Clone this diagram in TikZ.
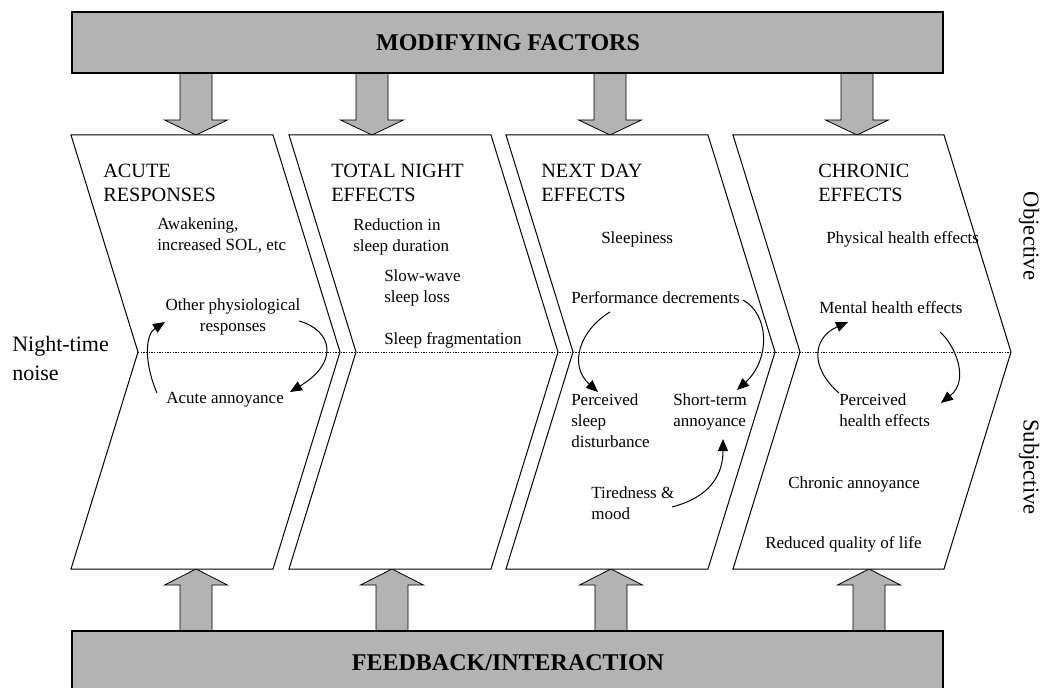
\documentclass[tikz,border=0pt]{standalone}
\usepackage{fontspec}
\setmainfont{Liberation Serif}
\usetikzlibrary{arrows.meta}
\definecolor{barg}{RGB}{179,179,179}
\begin{document}
\begin{tikzpicture}[x=0.75pt,y=-0.75pt,
  bar/.style={draw=black,line width=0.8pt,fill=barg},
  chev/.style={draw=black,line width=0.75pt,fill=white},
  blk/.style={draw=black,line width=0.6pt,fill=barg},
  bartext/.style={font=\bfseries\fontsize{18}{20}\selectfont,inner sep=0pt},
  head/.style={font=\fontsize{15.2}{17.5}\selectfont,anchor=base west,inner sep=0pt,align=left},
  txt/.style={font=\fontsize{12.75}{15.4}\selectfont,anchor=base west,inner sep=0pt,align=left},
  side/.style={font=\fontsize{17}{20}\selectfont,inner sep=0pt,rotate=-90},
  flow/.style={line width=0.75pt,-{Triangle[length=9pt,width=7.5pt]}},
  ]
\useasboundingbox (0,0) rectangle (1041,688);

% block arrows (drawn first, bars and chevrons on top)
\foreach \c in {196,372,610,857}
  \path[blk] (\c-16,72) -- (\c-16,120) -- (\c-31.5,120) -- (\c,135) -- (\c+31.5,120) -- (\c+16,120) -- (\c+16,72);
\foreach \c in {196,392,611,869}
  \path[blk] (\c-16,632) -- (\c-16,585) -- (\c-31.5,585) -- (\c,569) -- (\c+31.5,585) -- (\c+16,585) -- (\c+16,632);

% bars
\path[bar] (72,12) rectangle (943,73);
\node[bartext] (mf) at (508,42.5) {MODIFYING FACTORS};
\path[bar] (72,631) rectangle (943,700);
\node[bartext] (fb) at (508,663) {FEEDBACK/INTERACTION};

% chevrons
\foreach \l/\r in {71/273, 289/491, 506/708, 733/944}
  \path[chev] (\l,135) -- (\r,135) -- (\r+67,352) -- (\r,569) -- (\l,569) -- (\l+67,352) -- cycle;

% dotted divider
\coordinate (dl) at (138,352);
\coordinate (dr) at (1011,352);
\draw[line width=0.6pt,dash pattern=on 1pt off 1pt] (dl) -- (dr);

% headings (anchor = baseline of last line)
\node[head] (h1) at (103,201) {ACUTE\\RESPONSES};
\node[head] (h2) at (331,201) {TOTAL NIGHT\\EFFECTS};
\node[head] (h3) at (541,201) {NEXT DAY\\EFFECTS};
\node[head] (h4) at (818,201) {CHRONIC\\EFFECTS};

% chevron 1
\node[txt] (awk) at (157,250.5) {Awakening,\\increased SOL, etc};
\node[txt,align=center,anchor=base] (oth) at (233,331.5) {Other physiological\\responses};
\node[txt] (acu) at (166,403) {Acute annoyance};

% chevron 2
\node[txt] (red) at (353,251.5) {Reduction in\\sleep duration};
\node[txt] (sws) at (384,302.5) {Slow-wave\\sleep loss};
\node[txt] (frag) at (384,344) {Sleep fragmentation};

% chevron 3
\node[txt] (slp) at (601,243) {Sleepiness};
\node[txt] (perf) at (571,303) {Performance decrements};
\node[txt] (psd) at (571,447) {Perceived\\sleep\\disturbance};
\node[txt] (sta) at (673,426.5) {Short-term\\annoyance};
\node[txt] (tir) at (591,519.5) {Tiredness \&\\mood};

% chevron 4
\node[txt] (phys) at (826,243) {Physical health effects};
\node[txt] (ment) at (819,313) {Mental health effects};
\node[txt] (phe) at (839,426.5) {Perceived\\health effects};
\node[txt] (chr) at (788,488) {Chronic annoyance};
\node[txt] (rql) at (765,548) {Reduced quality of life};

% side labels
\node[font=\fontsize{16.5}{21.75}\selectfont,anchor=base west,inner sep=0pt,align=left] (ntn) at (12,380) {Night-time\\noise};
\node[side] (obj) at (1029,236) {Objective};
\node[side] (sub) at (1029,467) {Subjective};

% curved arrows
\coordinate (a1s) at (157,393);  \coordinate (a1e) at (165,322);
\draw[flow] (a1s) .. controls (143,360) and (146,334) .. (a1e);
\coordinate (a2s) at (299,321);  \coordinate (a2e) at (290,392);
\draw[flow] (a2s) .. controls (332,330) and (340,362) .. (a2e);
\coordinate (b1s) at (610,312);  \coordinate (b1e) at (598,392);
\draw[flow] (b1s) .. controls (580,330) and (568,365) .. (b1e);
\coordinate (b2s) at (743,300);  \coordinate (b2e) at (737,390);
\draw[flow] (b2s) .. controls (770,315) and (770,360) .. (b2e);
\coordinate (b3s) at (672,507);  \coordinate (b3e) at (723,439);
\draw[flow] (b3s) .. controls (710,497) and (723,475) .. (b3e);
\coordinate (c1s) at (839,393);  \coordinate (c1e) at (848,322);
\draw[flow] (c1s) .. controls (810,368) and (812,338) .. (c1e);
\coordinate (c2s) at (940,332);  \coordinate (c2e) at (941,403);
\draw[flow] (c2s) .. controls (955,345) and (970,380) .. (c2e);
\end{tikzpicture}
\end{document}
